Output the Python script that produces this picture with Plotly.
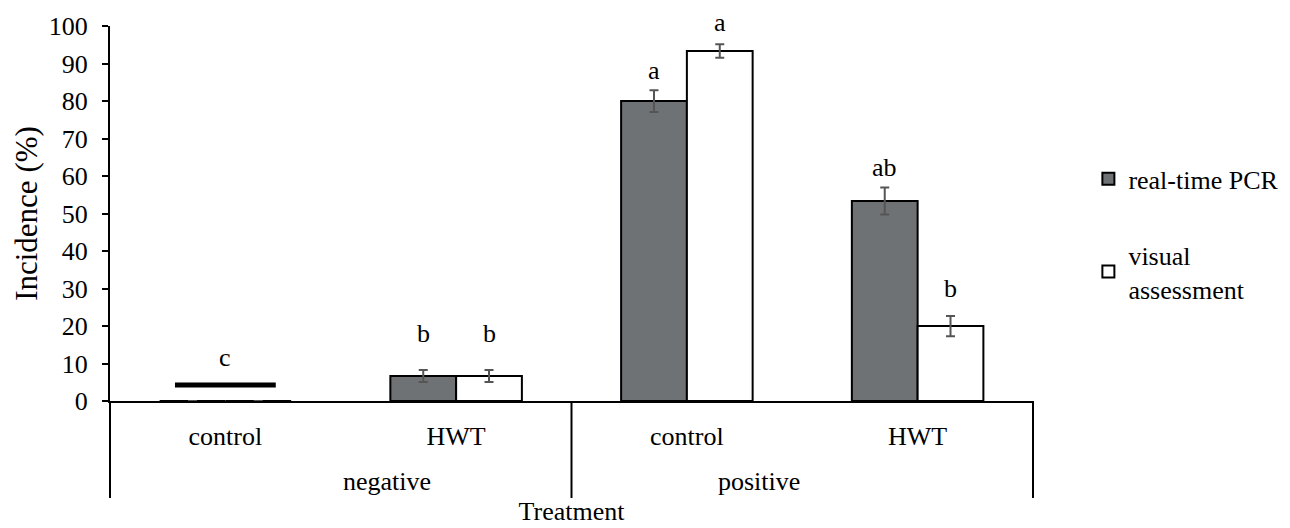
import plotly.graph_objects as go

# ---------------- data ----------------
group_labels = ["negative", "positive"]
treatments = ["control", "HWT", "control", "HWT"]
x_pos = [0, 1, 2, 3]

pcr_values = [0, 6.67, 80.0, 53.33]
pcr_errors = [None, 1.6, 2.9, 3.6]
visual_values = [0, 6.67, 93.33, 20.0]
visual_errors = [None, 1.6, 1.8, 2.7]

pcr_letters = ["", "b", "a", "ab"]
visual_letters = ["", "b", "a", "b"]
pcr_letter_y = [None, 15.6, 85.6, 59.7]
visual_letter_y = [None, 15.6, 98.4, 27.5]

zero_marker_y = 4.3
zero_letter = "c"
zero_letter_y = 9.1

y_ticks = list(range(0, 101, 10))

# ---------------- style ----------------
FONT = "Liberation Serif"
FS = 26
PCR_COLOR = "#6f7274"
ERR_COLOR = "#555555"
BARGAP = 0.43
half = (1 - BARGAP) / 4

fig = go.Figure()

fig.add_trace(go.Bar(
    x=x_pos, y=pcr_values, name="real-time PCR",
    marker=dict(color=PCR_COLOR, line=dict(color="black", width=2)),
    error_y=dict(type="data", array=pcr_errors, color=ERR_COLOR, thickness=2, width=4.5),
    legendgroup="pcr",
))
fig.add_trace(go.Bar(
    x=x_pos, y=visual_values, name="visual<br>assessment",
    marker=dict(color="white", line=dict(color="black", width=2)),
    error_y=dict(type="data", array=visual_errors, color=ERR_COLOR, thickness=2, width=4.5),
    legendgroup="vis",
))
# thick marker line denoting zero incidence in the negative control
fig.add_trace(go.Scatter(
    x=[x_pos[0]], y=[zero_marker_y], mode="markers",
    marker=dict(symbol="line-ew", size=72, line=dict(color="black", width=5)),
    showlegend=False, hoverinfo="skip",
))

letter_font = dict(family=FONT, size=FS, color="black")
annotations = []
for i in range(len(x_pos)):
    if pcr_letters[i]:
        annotations.append(dict(x=x_pos[i] - half, y=pcr_letter_y[i], text=pcr_letters[i],
                                xref="x", yref="y", showarrow=False, yanchor="bottom", yshift=-7,
                                font=letter_font))
    if visual_letters[i]:
        annotations.append(dict(x=x_pos[i] + half, y=visual_letter_y[i], text=visual_letters[i],
                                xref="x", yref="y", showarrow=False, yanchor="bottom", yshift=-7,
                                font=letter_font))
annotations.append(dict(x=x_pos[0], y=zero_letter_y, text=zero_letter, xref="x", yref="y",
                        showarrow=False, yanchor="bottom", yshift=-7, font=letter_font))
for j, g in enumerate(group_labels):
    annotations.append(dict(x=0.25 + 0.5 * j, y=-0.214, text=g, xref="paper", yref="paper",
                            showarrow=False, yanchor="middle", font=letter_font))

shapes = []
for xp in [0, 0.5, 1]:
    shapes.append(dict(type="line", xref="paper", yref="paper", x0=xp, x1=xp, y0=0, y1=-0.2587,
                       line=dict(color="black", width=2)))

fig.update_layout(
    width=1290, height=528,
    margin=dict(l=102, r=265, t=18, b=135, autoexpand=False),
    paper_bgcolor="white", plot_bgcolor="white",
    barmode="group", bargap=BARGAP, bargroupgap=0,
    font=dict(family=FONT, size=FS, color="black"),
    showlegend=True,
    legend=dict(x=1.06, y=0.655, xanchor="left", yanchor="top", tracegroupgap=39,
                font=dict(family=FONT, size=FS, color="black"), itemwidth=30,
                bgcolor="rgba(0,0,0,0)"),
    xaxis=dict(range=[-0.5, 3.5], tickvals=x_pos, ticktext=treatments, showline=True,
               linecolor="black", linewidth=2, ticks="", showgrid=False, zeroline=False,
               automargin=False, ticklabelstandoff=11,
               tickfont=dict(family=FONT, size=FS, color="black"),
               title=dict(text="Treatment", standoff=52, font=dict(family=FONT, size=FS, color="black"))),
    yaxis=dict(range=[0, 100], tickvals=y_ticks, showline=True, linecolor="black", linewidth=2,
               ticks="outside", ticklen=6, tickwidth=2, tickcolor="black", showgrid=False,
               zeroline=False, automargin=False, ticklabelstandoff=9,
               tickfont=dict(family=FONT, size=FS, color="black"),
               title=dict(text="Incidence (%)", standoff=2, font=dict(family=FONT, size=31, color="black"))),
    annotations=annotations, shapes=shapes,
)

fig.write_html("out.html")
